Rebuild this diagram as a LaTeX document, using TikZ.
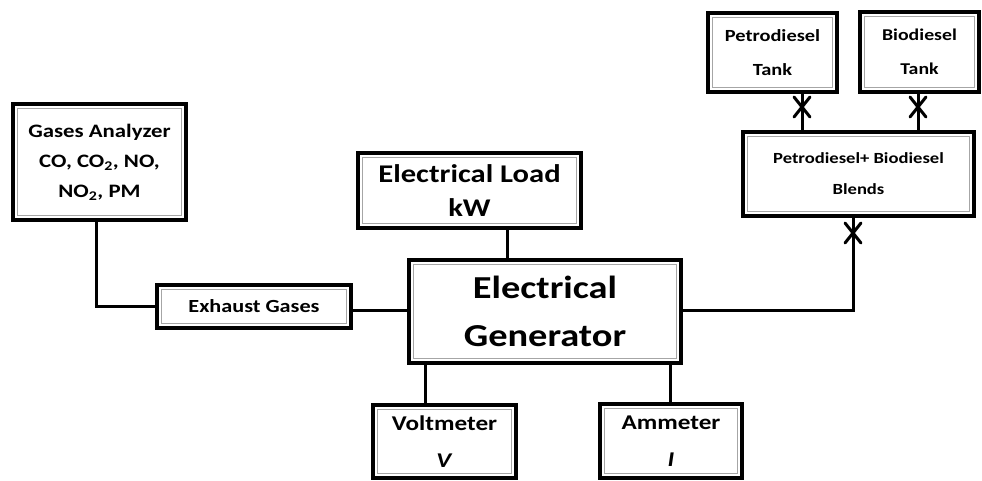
\documentclass[tikz,border=0pt]{standalone}
\usepackage{fontspec}
\setmainfont{Carlito}[FakeStretch=1.2,
  BoldFeatures={FakeStretch=1.2},
  BoldItalicFeatures={FakeStretch=1.2}]
\begin{document}
\begin{tikzpicture}[x=1pt,y=-1pt,
  dbox/.style={draw=black,line width=3.6pt,fill=white,align=center,inner sep=0pt,
    font=\bfseries,
    path picture={\draw[gray!70,line width=0.9pt]
      ([shift={(4.8pt,4.8pt)}]path picture bounding box.south west) rectangle
      ([shift={(-4.8pt,-4.8pt)}]path picture bounding box.north east);}},
  conn/.style={line width=3pt,line cap=rect},
  xmark/.style={line width=3pt,line cap=round}]
\useasboundingbox (0,0) rectangle (982,481);
\fill[white] (0,0) rectangle (982,481);

\node[dbox,minimum width=173pt,minimum height=116pt,font=\bfseries\fontsize{19}{30}\selectfont]
  (gas) at (99.5,162) {Gases Analyzer\\CO, CO\textsubscript{2}, NO,\\NO\textsubscript{2}, PM};
\node[dbox,minimum width=194pt,minimum height=43pt,font=\bfseries\fontsize{18.5}{20}\selectfont]
  (exh) at (254,306.5) {Exhaust Gases};
\node[dbox,minimum width=223pt,minimum height=75pt,font=\bfseries\fontsize{25.5}{34}\selectfont]
  (load) at (469.5,190.5) {Electrical Load\\kW};
\node[dbox,minimum width=272pt,minimum height=103pt,font=\bfseries\fontsize{32}{48}\selectfont]
  (gen) at (545,311.5) {Electrical\\Generator};
\node[dbox,minimum width=143pt,minimum height=73pt,font=\bfseries\fontsize{21}{37}\selectfont]
  (volt) at (444.5,441.5) {Voltmeter\\\textit{V}};
\node[dbox,minimum width=142pt,minimum height=74pt,font=\bfseries\fontsize{21}{37}\selectfont]
  (amm) at (671,441) {Ammeter\\\textit{I}};
\node[dbox,minimum width=129pt,minimum height=79pt,font=\bfseries\fontsize{17}{34}\selectfont]
  (petro) at (772.5,52.5) {Petrodiesel\\Tank};
\node[dbox,minimum width=119pt,minimum height=80pt,font=\bfseries\fontsize{16.5}{34}\selectfont]
  (bio) at (919.5,52) {Biodiesel\\Tank};
\node[dbox,minimum width=231pt,minimum height=84pt,font=\bfseries\fontsize{15.5}{31}\selectfont]
  (blend) at (858.5,174) {Petrodiesel+ Biodiesel\\Blends};

\coordinate (gx) at (96,0);
\coordinate (lx) at (507,0);
\coordinate (vx) at (425,0);
\coordinate (ax) at (670,0);
\coordinate (px) at (802,0);
\coordinate (bx) at (918,0);
\coordinate (fx) at (853,0);
\coordinate (hy) at (0,310);

\draw[conn] (gas.south -| gx) |- (exh.west);
\draw[conn] (exh.east |- hy) -- (gen.west |- hy);
\draw[conn] (load.south -| lx) -- (gen.north -| lx);
\draw[conn] (gen.south -| vx) -- (volt.north -| vx);
\draw[conn] (gen.south -| ax) -- (amm.north -| ax);
\draw[conn] (gen.east |- hy) -| (blend.south -| fx);
\draw[conn] (petro.south -| px) -- (blend.north -| px);
\draw[conn] (bio.south -| bx) -- (blend.north -| bx);

\foreach \cx/\cy in {802/107,918/107,853/233}{
  \draw[xmark] (\cx-8,\cy-10) -- (\cx+8,\cy+10);
  \draw[xmark] (\cx+8,\cy-10) -- (\cx-8,\cy+10);
}
\end{tikzpicture}
\end{document}
